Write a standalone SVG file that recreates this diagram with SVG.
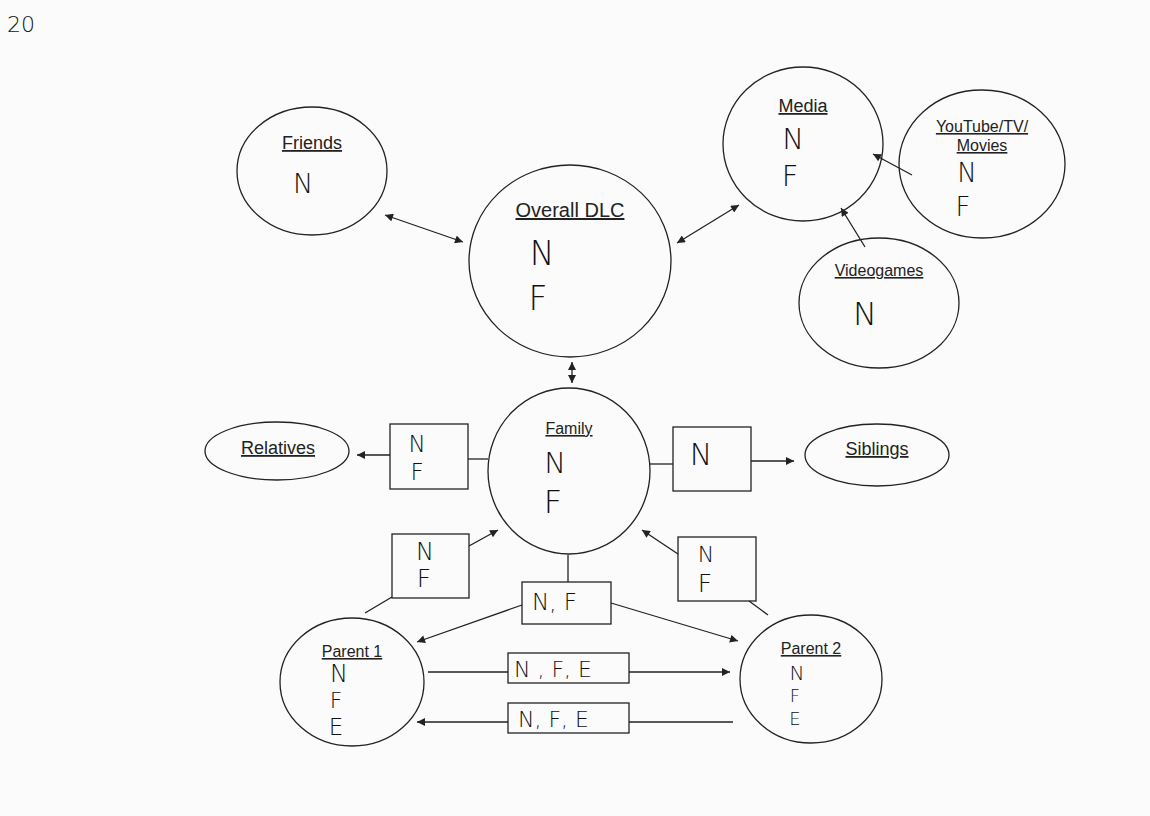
<svg xmlns="http://www.w3.org/2000/svg" width="1150" height="816" viewBox="0 0 1150 816">
<style>
.bg{fill:#fbfbfb}
.shape{fill:none;stroke:#222;stroke-width:1.3}
.conn{fill:none;stroke:#222;stroke-width:1.3}
.lbl{font-family:"Liberation Sans",Arial,sans-serif;fill:#222;text-anchor:middle;text-decoration:underline}
.hw{font-family:"DejaVu Sans","Liberation Sans",sans-serif;font-weight:200;fill:#111;text-anchor:middle}
.hws{font-family:"DejaVu Sans","Liberation Sans",sans-serif;font-weight:200;fill:#111;text-anchor:start}
</style>
<defs>
<marker id="ah" viewBox="0 0 10 10" refX="10" refY="5" markerWidth="10" markerHeight="8" markerUnits="userSpaceOnUse" orient="auto-start-reverse">
<path d="M0,0 L10,5 L0,10 z" fill="#222"/>
</marker>
</defs>
<rect class="bg" x="0" y="0" width="1150" height="816"/>
<text class="hws" x="7" y="32" font-size="22">20</text>

<g id="friends">
<ellipse class="shape" cx="312" cy="171" rx="75" ry="64"/>
<text class="lbl" x="312" y="149" font-size="18">Friends</text>
<text class="hw" x="303" y="193" font-size="27">N</text>
</g>

<g id="overall-dlc">
<ellipse class="shape" cx="570" cy="261" rx="101" ry="96"/>
<text class="lbl" x="570" y="217" font-size="20">Overall DLC</text>
<text class="hw" x="542" y="265" font-size="33">N</text>
<text class="hw" x="538" y="310" font-size="33">F</text>
</g>

<g id="media">
<ellipse class="shape" cx="803" cy="144" rx="80" ry="77"/>
<text class="lbl" x="803" y="112" font-size="18">Media</text>
<text class="hw" x="793" y="149" font-size="29">N</text>
<text class="hw" x="790" y="186" font-size="29">F</text>
</g>

<g id="youtube">
<ellipse class="shape" cx="982" cy="164" rx="83" ry="74"/>
<text class="lbl" x="982" y="132" font-size="16">YouTube/TV/</text>
<text class="lbl" x="982" y="151" font-size="16">Movies</text>
<text class="hw" x="967" y="182" font-size="26">N</text>
<text class="hw" x="963" y="216" font-size="26">F</text>
</g>

<g id="videogames">
<ellipse class="shape" cx="879" cy="303" rx="80" ry="65"/>
<text class="lbl" x="879" y="276" font-size="16">Videogames</text>
<text class="hw" x="865" y="325" font-size="32">N</text>
</g>

<g id="family">
<ellipse class="shape" cx="569" cy="471" rx="81" ry="83"/>
<text class="lbl" x="569" y="434" font-size="16">Family</text>
<text class="hw" x="555" y="473" font-size="29">N</text>
<text class="hw" x="553" y="513" font-size="32">F</text>
</g>

<g id="relatives">
<ellipse class="shape" cx="277" cy="451" rx="72" ry="29"/>
<text class="lbl" x="278" y="454" font-size="18">Relatives</text>
</g>

<g id="siblings">
<ellipse class="shape" cx="877" cy="455" rx="72" ry="31"/>
<text class="lbl" x="877" y="455" font-size="18">Siblings</text>
</g>

<g id="parent1">
<ellipse class="shape" cx="352" cy="682" rx="72" ry="64"/>
<text class="lbl" x="352" y="657" font-size="16">Parent 1</text>
<text class="hw" x="339" y="682" font-size="24">N</text>
<text class="hw" x="336" y="708" font-size="22">F</text>
<text class="hw" x="336" y="735" font-size="23">E</text>
</g>

<g id="parent2">
<ellipse class="shape" cx="811" cy="679" rx="71" ry="64"/>
<text class="lbl" x="811" y="654" font-size="16">Parent 2</text>
<text class="hw" x="797" y="680" font-size="20">N</text>
<text class="hw" x="795" y="702" font-size="18">F</text>
<text class="hw" x="795" y="725" font-size="18">E</text>
</g>

<g id="box-relatives">
<rect class="shape" x="390" y="424" width="78" height="65"/>
<text class="hw" x="417" y="452" font-size="23">N</text>
<text class="hw" x="417" y="480" font-size="23">F</text>
</g>

<g id="box-siblings">
<rect class="shape" x="673" y="427" width="78" height="64"/>
<text class="hw" x="701" y="465" font-size="30">N</text>
</g>

<g id="box-parent1-family">
<rect class="shape" x="392" y="534" width="77" height="64"/>
<text class="hw" x="425" y="560" font-size="24">N</text>
<text class="hw" x="424" y="587" font-size="25">F</text>
</g>

<g id="box-parent2-family">
<rect class="shape" x="678" y="537" width="78" height="64"/>
<text class="hw" x="706" y="562" font-size="22">N</text>
<text class="hw" x="705" y="592" font-size="25">F</text>
</g>

<g id="box-family-parents">
<rect class="shape" x="522" y="582" width="89" height="42"/>
<text class="hws" x="532" y="610" font-size="23">N, F</text>
</g>

<g id="box-p1-p2">
<rect class="shape" x="508" y="653" width="121" height="30"/>
<text class="hws" x="514" y="677" font-size="22">N , F, E</text>
</g>

<g id="box-p2-p1">
<rect class="shape" x="508" y="703" width="121" height="30"/>
<text class="hws" x="518" y="727" font-size="22">N, F, E</text>
</g>

<g id="connectors">
<line class="conn" x1="385" y1="215" x2="463" y2="242" marker-start="url(#ah)" marker-end="url(#ah)"/>
<line class="conn" x1="677" y1="243" x2="739" y2="205" marker-start="url(#ah)" marker-end="url(#ah)"/>
<line class="conn" x1="912" y1="175" x2="873" y2="154" marker-end="url(#ah)"/>
<line class="conn" x1="865" y1="247" x2="841" y2="208" marker-end="url(#ah)"/>
<line class="conn" x1="572" y1="362" x2="572" y2="383" marker-start="url(#ah)" marker-end="url(#ah)"/>
<line class="conn" x1="488" y1="459" x2="468" y2="459"/>
<line class="conn" x1="390" y1="455" x2="357" y2="455" marker-end="url(#ah)"/>
<line class="conn" x1="650" y1="464" x2="673" y2="464"/>
<line class="conn" x1="751" y1="461" x2="794" y2="461" marker-end="url(#ah)"/>
<line class="conn" x1="365" y1="613" x2="392" y2="597"/>
<line class="conn" x1="469" y1="546" x2="498" y2="530" marker-end="url(#ah)"/>
<line class="conn" x1="768" y1="615" x2="749" y2="601"/>
<line class="conn" x1="678" y1="554" x2="642" y2="530" marker-end="url(#ah)"/>
<line class="conn" x1="568" y1="555" x2="568" y2="582"/>
<line class="conn" x1="522" y1="605" x2="417" y2="642" marker-end="url(#ah)"/>
<line class="conn" x1="611" y1="603" x2="738" y2="641" marker-end="url(#ah)"/>
<line class="conn" x1="428" y1="672" x2="508" y2="672"/>
<line class="conn" x1="629" y1="672" x2="730" y2="672" marker-end="url(#ah)"/>
<line class="conn" x1="733" y1="722" x2="629" y2="722"/>
<line class="conn" x1="508" y1="722" x2="417" y2="722" marker-end="url(#ah)"/>
</g>
</svg>
